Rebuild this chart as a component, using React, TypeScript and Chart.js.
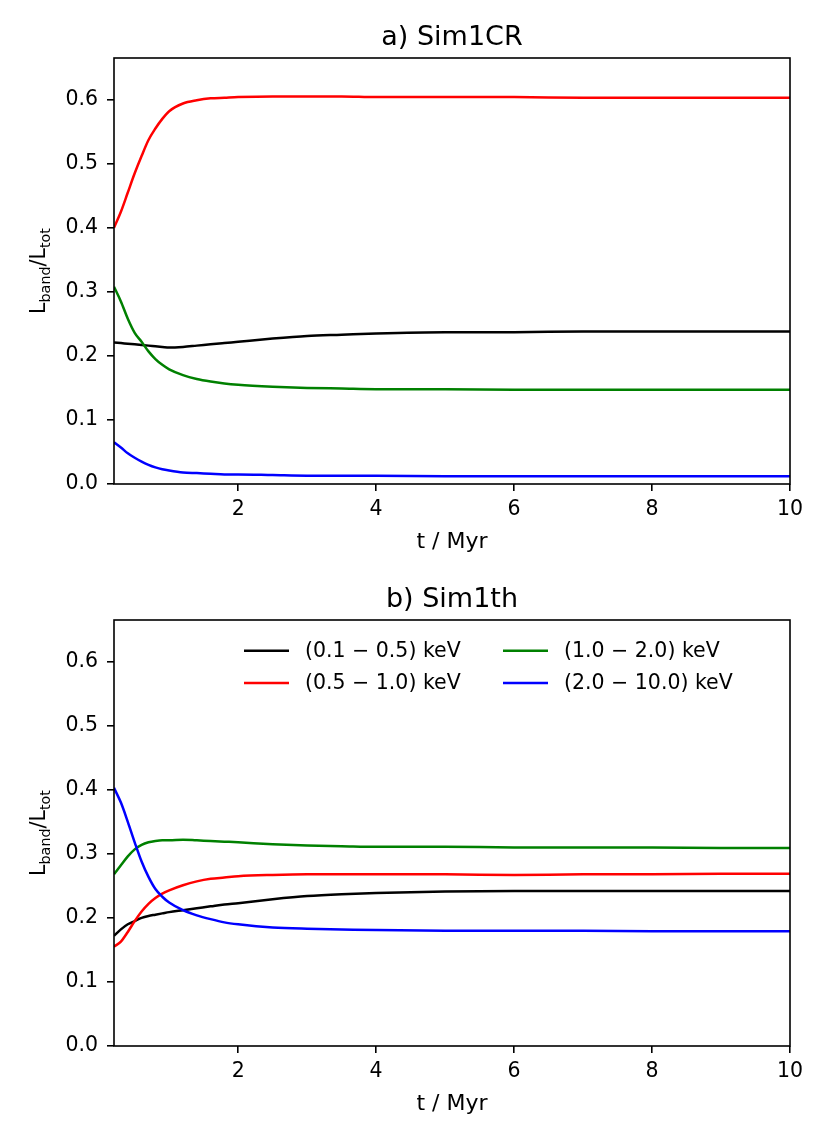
import { useEffect, useRef } from "react";
import { Chart, registerables } from "chart.js";

Chart.register(...registerables);

// time grid (Myr)
const TIMES = [0.2, 0.3, 0.4, 0.5, 0.6, 0.7, 0.8, 0.9, 1.0, 1.2, 1.4, 1.6, 1.8, 2.0, 2.5, 3.0, 3.5, 4, 5, 6, 7, 8, 9, 10];

const BAND_LABELS = ["(0.1 − 0.5) keV", "(0.5 − 1.0) keV", "(1.0 − 2.0) keV", "(2.0 − 10.0) keV"];
const BAND_COLORS = ["#000000", "#ff0000", "#008000", "#0000ff"];

// a) Sim1CR
const CR_01_05 = [0.221, 0.22, 0.219, 0.218, 0.217, 0.216, 0.215, 0.214, 0.213, 0.214, 0.216, 0.218, 0.22, 0.222, 0.227, 0.231, 0.233, 0.235, 0.237, 0.237, 0.238, 0.238, 0.238, 0.238];
const CR_05_10 = [0.4, 0.425, 0.455, 0.485, 0.512, 0.537, 0.555, 0.57, 0.582, 0.594, 0.599, 0.602, 0.603, 0.604, 0.605, 0.605, 0.605, 0.604, 0.604, 0.604, 0.603, 0.603, 0.603, 0.603];
const CR_10_20 = [0.308, 0.285, 0.258, 0.236, 0.222, 0.207, 0.195, 0.186, 0.179, 0.17, 0.164, 0.16, 0.157, 0.155, 0.152, 0.15, 0.149, 0.148, 0.148, 0.147, 0.147, 0.147, 0.147, 0.147];
const CR_20_100 = [0.065, 0.057, 0.048, 0.041, 0.035, 0.03, 0.026, 0.023, 0.021, 0.018, 0.017, 0.016, 0.015, 0.015, 0.014, 0.013, 0.013, 0.013, 0.012, 0.012, 0.012, 0.012, 0.012, 0.012];

// b) Sim1th
const TH_01_05 = [0.172, 0.182, 0.19, 0.195, 0.2, 0.203, 0.205, 0.207, 0.209, 0.212, 0.215, 0.218, 0.221, 0.223, 0.229, 0.234, 0.237, 0.239, 0.241, 0.242, 0.242, 0.242, 0.242, 0.242];
const TH_05_10 = [0.155, 0.163, 0.178, 0.195, 0.21, 0.222, 0.231, 0.238, 0.243, 0.251, 0.257, 0.261, 0.263, 0.265, 0.267, 0.268, 0.268, 0.268, 0.268, 0.267, 0.268, 0.268, 0.269, 0.269];
const TH_10_20 = [0.268, 0.282, 0.296, 0.307, 0.314, 0.318, 0.32, 0.321, 0.321, 0.322, 0.321, 0.32, 0.319, 0.318, 0.315, 0.313, 0.312, 0.311, 0.311, 0.31, 0.31, 0.31, 0.309, 0.309];
const TH_20_100 = [0.403, 0.38, 0.35, 0.318, 0.288, 0.264, 0.245, 0.233, 0.224, 0.212, 0.204, 0.198, 0.193, 0.19, 0.185, 0.183, 0.182, 0.181, 0.18, 0.18, 0.18, 0.179, 0.179, 0.179];

const X_TICKS = [2, 4, 6, 8, 10];
const Y_TICKS = [0, 0.1, 0.2, 0.3, 0.4, 0.5, 0.6];

const FONT = "'DejaVu Sans', sans-serif";
const FS = 20.5;

const framePlugin = {
  id: "frame",
  afterDraw(chart: any) {
    const { ctx, chartArea: a } = chart;
    ctx.save();
    ctx.strokeStyle = "#000";
    ctx.lineWidth = 1.6;
    ctx.strokeRect(a.left, a.top, a.right - a.left, a.bottom - a.top);

    // y label with subscripts
    const parts: [string, boolean][] = [["L", false], ["band", true], ["/", false], ["L", false], ["tot", true]];
    const big = `${FS}px ${FONT}`;
    const small = `${FS * 0.7}px ${FONT}`;
    let total = 0;
    for (const [t, sub] of parts) {
      ctx.font = sub ? small : big;
      total += ctx.measureText(t).width;
    }
    ctx.translate(45, (a.top + a.bottom) / 2);
    ctx.rotate(-Math.PI / 2);
    ctx.fillStyle = "#000";
    ctx.textBaseline = "alphabetic";
    ctx.textAlign = "left";
    let x = -total / 2;
    for (const [t, sub] of parts) {
      ctx.font = sub ? small : big;
      ctx.fillText(t, x, sub ? 5 : 0);
      x += ctx.measureText(t).width;
    }
    ctx.restore();
  },
};

const legendPlugin = {
  id: "bandLegend",
  afterDraw(chart: any) {
    if (!chart.options.plugins.bandLegend?.show) return;
    const { ctx } = chart;
    const cols = [244, 503];
    const rows = [88.7, 121];
    ctx.save();
    ctx.font = `${FS}px ${FONT}`;
    ctx.textBaseline = "middle";
    ctx.textAlign = "left";
    chart.data.datasets.forEach((ds: any, i: number) => {
      const cx = cols[Math.floor(i / 2)];
      const cy = rows[i % 2];
      ctx.strokeStyle = ds.borderColor;
      ctx.lineWidth = 2.5;
      ctx.beginPath();
      ctx.moveTo(cx, cy);
      ctx.lineTo(cx + 45, cy);
      ctx.stroke();
      ctx.fillStyle = "#000";
      ctx.fillText(ds.label, cx + 61, cy + 1);
    });
    ctx.restore();
  },
};

function Panel({ title, series, showLegend }: { title: string; series: number[][]; showLegend: boolean }) {
  const canvasRef = useRef<HTMLCanvasElement>(null);

  useEffect(() => {
    if (!canvasRef.current) return;
    const tickFont = { family: FONT, size: FS };
    const chart = new Chart(canvasRef.current, {
      type: "line",
      data: {
        datasets: series.map((vals, i) => ({
          label: BAND_LABELS[i],
          data: TIMES.map((t, j) => ({ x: t, y: vals[j] })),
          borderColor: BAND_COLORS[i],
          backgroundColor: BAND_COLORS[i],
          borderWidth: 2.5,
          pointRadius: 0,
          cubicInterpolationMode: "monotone" as const,
          order: 3 - i,
        })),
      },
      options: {
        responsive: true,
        maintainAspectRatio: false,
        animation: false,
        layout: { padding: { left: 0, right: 40, top: 0, bottom: 0 } },
        scales: {
          x: {
            type: "linear",
            min: 0.2,
            max: 10,
            afterBuildTicks: (s: any) => {
              s.ticks = X_TICKS.map((v) => ({ value: v }));
            },
            afterFit: (s: any) => {
              s.height = 76;
            },
            ticks: { color: "#000", font: tickFont, padding: 6, maxRotation: 0, autoSkip: false, callback: (v: any) => String(v) },
            grid: { drawOnChartArea: false, color: "#000", lineWidth: 1.6, tickLength: 7 },
            border: { display: false },
            title: { display: true, text: "t / Myr", color: "#000", font: { family: FONT, size: 22 }, padding: { top: 0, bottom: 5 } },
          },
          y: {
            type: "linear",
            min: 0,
            max: 0.665,
            afterBuildTicks: (s: any) => {
              s.ticks = Y_TICKS.map((v) => ({ value: v }));
            },
            afterFit: (s: any) => {
              s.width = 114;
            },
            ticks: { color: "#000", font: tickFont, padding: 9, autoSkip: false, callback: (v: any) => Number(v).toFixed(1) },
            grid: { drawOnChartArea: false, color: "#000", lineWidth: 1.6, tickLength: 7 },
            border: { display: false },
          },
        },
        plugins: {
          legend: { display: false },
          tooltip: { enabled: false },
          title: {
            display: true,
            text: title,
            color: "#000",
            fullSize: false,
            font: { family: FONT, size: 27, weight: "normal" },
            padding: { top: 21.8, bottom: 3.8 },
          },
          bandLegend: { show: showLegend },
        } as any,
      },
      plugins: [framePlugin, legendPlugin],
    });
    return () => chart.destroy();
  }, [title, series, showLegend]);

  return <canvas ref={canvasRef} />;
}

export default function App() {
  return (
    <div style={{ position: "absolute", left: 0, top: 0, width: 830, height: 1142, background: "#fff" }}>
      <div style={{ position: "absolute", left: 0, top: 0, width: 830, height: 560 }}>
        <Panel title="a) Sim1CR" series={[CR_01_05, CR_05_10, CR_10_20, CR_20_100]} showLegend={false} />
      </div>
      <div style={{ position: "absolute", left: 0, top: 562, width: 830, height: 560 }}>
        <Panel title="b) Sim1th" series={[TH_01_05, TH_05_10, TH_10_20, TH_20_100]} showLegend={true} />
      </div>
    </div>
  );
}
